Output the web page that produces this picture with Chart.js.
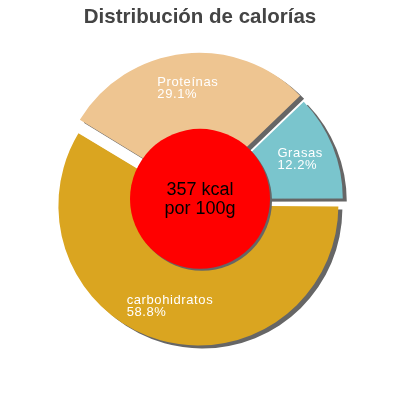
<!DOCTYPE html>
<html>
<head>
<meta charset="utf-8">
<script src="https://cdn.jsdelivr.net/npm/chart.js@4"></script>
<style>
  html, body { margin: 0; padding: 0; background: #fff; }
  #wrap { width: 400px; height: 400px; }
</style>
</head>
<body>
<div id="wrap"><canvas id="chart"></canvas></div>
<script>
// slices, clockwise from the upper right
const labels = ['Grasas', 'carbohidratos', 'Proteínas'];
const percents = [12.2, 58.8, 29.1];
const colors = ['#7ac5cd', '#daa520', '#eec591'];
const offsets = [3, 6, 7]; // pixels each slice is pulled out
const centerLines = ['357 kcal', 'por 100g'];

// chart.js v4 moves an arc offset/4 px but also grows its radius a bit;
// undo the radius growth so every slice keeps the same radius
const keepRadius = {
  id: 'keepRadius',
  afterDatasetUpdate(chart) {
    const meta = chart.getDatasetMeta(0);
    meta.data.forEach((arc, i) => {
      const fix = 1 - Math.sin(Math.min(Math.PI, arc.circumference || 0));
      arc.outerRadius -= offsets[i] * fix;
    });
  }
};

// grey drop shadow behind slices
const shadowPlugin = {
  id: 'shadow',
  beforeDatasetsDraw(chart) {
    const ctx = chart.ctx;
    ctx.save();
    ctx.shadowColor = '#666';
    ctx.shadowOffsetX = 4;
    ctx.shadowOffsetY = 3;
    ctx.shadowBlur = 0;
  },
  afterDatasetsDraw(chart) {
    chart.ctx.restore();
  }
};

// red disc in the middle with the kcal text, then slice labels
const centerPlugin = {
  id: 'center',
  afterDatasetsDraw(chart) {
    const ctx = chart.ctx;
    const meta = chart.getDatasetMeta(0);
    const arc0 = meta.data[0];
    const cx = arc0.x, cy = arc0.y - 1;

    ctx.save();
    ctx.shadowColor = '#666';
    ctx.shadowOffsetX = 2;
    ctx.shadowOffsetY = 2;
    ctx.beginPath();
    ctx.arc(cx, cy, 70, 0, Math.PI * 2);
    ctx.fillStyle = '#ff0000';
    ctx.fill();
    ctx.restore();

    ctx.save();
    ctx.fillStyle = '#000';
    ctx.font = '18px "Liberation Sans", Arial, sans-serif';
    ctx.textAlign = 'center';
    ctx.textBaseline = 'middle';
    ctx.fillText(centerLines[0], cx, cy - 9);
    ctx.fillText(centerLines[1], cx, cy + 10);
    ctx.restore();

    ctx.save();
    ctx.fillStyle = '#fff';
    ctx.font = '13px "Liberation Sans", Arial, sans-serif';
    ctx.letterSpacing = '0.6px';
    ctx.textAlign = 'left';
    ctx.textBaseline = 'middle';
    meta.data.forEach((arc, i) => {
      const p = arc.getProps(['x', 'y', 'startAngle', 'endAngle'], true);
      const mid = (p.startAngle + p.endAngle) / 2;
      const r = 105 + offsets[i];
      const lx = p.x + Math.cos(mid) * r;
      const ly = p.y + Math.sin(mid) * r;
      const lines = [labels[i], percents[i].toFixed(1) + '%'];
      const w = Math.max(...lines.map(t => ctx.measureText(t).width));
      ctx.fillText(lines[0], lx - w / 2, ly - 6);
      ctx.fillText(lines[1], lx - w / 2, ly + 6);
    });
    ctx.restore();
  }
};

new Chart(document.getElementById('chart'), {
  type: 'pie',
  data: {
    labels: labels,
    datasets: [{
      data: percents,
      backgroundColor: colors,
      borderWidth: 0,
      offset: offsets.map(o => o * 4),
      hoverOffset: 0
    }]
  },
  options: {
    responsive: true,
    maintainAspectRatio: false,
    animation: false,
    rotation: 46.1,
    radius: 140,
    layout: { padding: { bottom: 30 } },
    plugins: {
      legend: { display: false },
      tooltip: { enabled: false },
      title: {
        display: true,
        text: 'Distribución de calorías',
        color: '#444',
        font: { family: '"Liberation Sans", Arial, sans-serif', size: 20.5, weight: 'bold' },
        padding: { top: 5, bottom: 0 }
      }
    }
  },
  plugins: [keepRadius, shadowPlugin, centerPlugin]
});
</script>
</body>
</html>
